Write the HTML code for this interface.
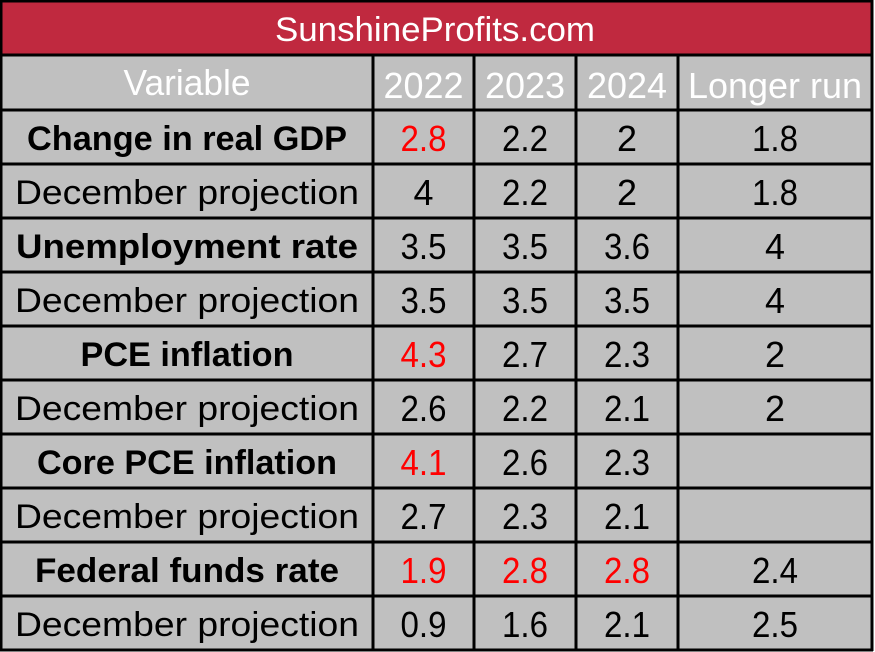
<!DOCTYPE html>
<html><head><meta charset="utf-8"><style>
html,body{margin:0;padding:0;background:#fff;}
svg{display:block;}
text{font-family:"Liberation Sans",sans-serif;}
</style></head><body>
<svg id="t" width="875" height="652" viewBox="0 0 875 652">
<rect x="1" y="1" width="871" height="649" fill="#c0c0c0"/>
<rect x="1" y="1" width="871" height="54" fill="#c0293f"/>
<text x="435" y="41" text-anchor="middle" font-size="34" fill="#fff" textLength="320" lengthAdjust="spacingAndGlyphs">SunshineProfits.com</text>
<g id="grid"></g>
<g id="cells"></g>
</svg>
<script>
const headers=["Variable","2022","2023","2024","Longer run"];
const labels=["Change in real GDP","December projection","Unemployment rate","December projection","PCE inflation","December projection","Core PCE inflation","December projection","Federal funds rate","December projection"];
const bold=[1,0,1,0,1,0,1,0,1,0];
const v2022=["2.8","4","3.5","3.5","4.3","2.6","4.1","2.7","1.9","0.9"];
const v2023=["2.2","2.2","3.5","3.5","2.7","2.2","2.6","2.3","2.8","1.6"];
const v2024=["2","2","3.6","3.5","2.3","2.1","2.3","2.1","2.8","2.1"];
const vLong=["1.8","1.8","4","4","2","2","","","2.4","2.5"];
const red2022=[1,0,0,0,1,0,1,0,1,0];
const red2023=[0,0,0,0,0,0,0,0,1,0];
const red2024=[0,0,0,0,0,0,0,0,1,0];
const NS="http://www.w3.org/2000/svg";
const colX=[1,373,474,576,678,872];
const rowY=[55,110,164,218,272,326,380,434,488,542,596,650];
const labelW={"Change in real GDP":320,"December projection":344,"Unemployment rate":342,"PCE inflation":213,"Core PCE inflation":300,"Federal funds rate":304};
const grid=document.getElementById('grid'),cells=document.getElementById('cells');
function ln(x1,y1,x2,y2){const l=document.createElementNS(NS,'line');l.setAttribute('x1',x1);l.setAttribute('y1',y1);l.setAttribute('x2',x2);l.setAttribute('y2',y2);l.setAttribute('stroke','#000');l.setAttribute('stroke-width','3');


grid.appendChild(l);}
rowY.forEach(y=>ln(0,y,873,y));
ln(0,1,873,1);
colX.forEach((x,i)=>ln(x,i==0||i==5?0:55,x,651));
function txt(s,x,y,opt){const t=document.createElementNS(NS,'text');t.textContent=s;t.setAttribute('x',x);t.setAttribute('y',y);t.setAttribute('text-anchor','middle');t.setAttribute('font-size',opt.size||32);t.setAttribute('fill',opt.fill||'#000');if(opt.bold)t.setAttribute('font-weight','bold');if(opt.w){t.setAttribute('textLength',opt.w);t.setAttribute('lengthAdjust','spacingAndGlyphs');}


cells.appendChild(t);}
const hw=[127,80,80,80,174];
headers.forEach((h,i)=>txt(h,(colX[i]+colX[i+1])/2,(i==0?95:98),{fill:'#fff',size:36,w:hw[i],name:'header-'+h.toLowerCase().replace(' ','-')}));
const cols=[v2022,v2023,v2024,vLong],reds=[red2022,red2023,red2024,null];
labels.forEach((lab,r)=>{
 const yb=rowY[r+1]+40;
 txt(lab,(colX[0]+colX[1])/2,yb,{bold:bold[r],size:34,w:labelW[lab],name:'row-label-'+(r+1)});
 cols.forEach((c,k)=>{if(!c[r])return;const isRed=reds[k]&&reds[k][r];
  txt(c[r],(colX[k+1]+colX[k+2])/2,yb+1,{fill:isRed?'#ff0000':'#000',size:36,w:c[r].length>1?46:20,name:'cell-r'+(r+1)+'-c'+(k+1)});});
});
</script>
</body></html>
